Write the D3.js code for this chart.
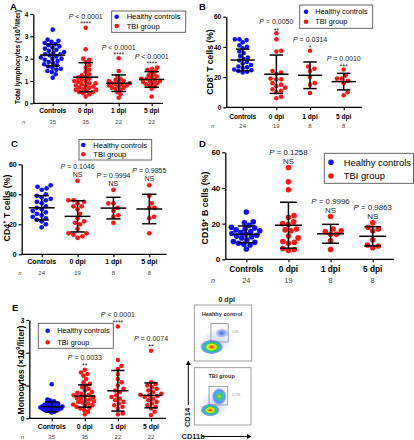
<!DOCTYPE html>
<html><head><meta charset="utf-8">
<script src="https://cdn.jsdelivr.net/npm/d3@7"></script>
<style>body{margin:0;background:#fff} svg{display:block} text{font-family:"Liberation Sans",Arial,Helvetica,sans-serif}</style>
</head><body><svg id="c" width="414" height="440"></svg>
<script>
// ---------------- DATA ----------------
const categories = ["Controls", "0 dpi", "1 dpi", "5 dpi"];
const seriesNames = ["Healthy controls", "TBI group"];

// A: total lymphocytes (x10^9/liter)
const lymphTicks = [0, 1, 2, 3, 4];
const lymphN = [35, 35, 22, 22];
const lymphControls = [3.3,2.85,2.8,2.75,2.7,2.65,2.6,2.55,2.5,2.45,2.4,2.35,2.3,2.25,2.2,2.2,2.15,2.1,2.05,2.0,2.0,1.95,1.9,1.85,1.8,1.75,1.7,1.65,1.6,1.55,1.5,1.45,1.4,1.3,1.15];
const lymph0 = [3.38,2.42,2.0,1.95,1.85,1.7,1.6,1.5,1.4,1.3,1.25,1.2,1.15,1.1,1.05,1.0,1.0,0.95,0.9,0.9,0.85,0.8,0.8,0.75,0.7,0.7,0.65,0.6,0.6,0.55,0.5,0.5,0.45,0.4,0.3];
const lymph1 = [2.02,1.45,1.2,1.1,1.05,1.0,1.0,0.95,0.9,0.9,0.85,0.85,0.8,0.8,0.75,0.7,0.7,0.65,0.6,0.5,0.4,0.25];
const lymph5 = [1.6,1.55,1.5,1.45,1.4,1.3,1.25,1.2,1.15,1.1,1.1,1.05,1.0,1.0,0.95,0.9,0.9,0.85,0.8,0.75,0.65,0.3];
const lymphMean = [2.16, 1.17, 0.9, 1.07];
const lymphSD = [0.48, 0.65, 0.37, 0.35];
const lymphP = ["", "P < 0.0001", "P < 0.0001", "P < 0.0001"];
const lymphSig = ["", "****", "****", "****"];

// B: CD8+ T cells (%)
const pctTicks = [0, 20, 40, 60];
const cd8N = [24, 19, 8, 8];
const cd8Controls = [45,45,44.5,43,41,40,39,37,36,34,33,32,31,30,29,28,27,26.5,26,25,24.5,24,23.5,23];
const cd8_0 = [49,45,37.5,37,24,23,22,19,18.5,18.5,16,15,14,13,12,11,10,7,6];
const cd8_1 = [37.5,27,25.5,24,20,16,15,9.5];
const cd8_5 = [25,21,19,19,17.5,16,10,8];
const cd8Mean = [31.3, 21.9, 21.2, 17.0];
const cd8SD = [7.2, 12.7, 8.8, 5.5];
const cd8P = ["", "P = 0.0050", "P = 0.0314", "P = 0.0010"];
const cd8Sig = ["", "**", "*", "***"];

// C: CD4+ T cells (%)
const cd4N = [24, 19, 8, 8];
const cd4Controls = [46,45,44,43,40,39,38,37,36,35,34,32,31,30,29,28,27,26,25,24,23,22,20,18];
const cd4_0 = [49,36,36,35,34,32,32,30,27,24,22,21,20,17,14,14,13,12,11];
const cd4_1 = [43,34,34,31,29,26,25,21];
const cd4_5 = [46,39,34,31,31,25,24,14];
const cd4Mean = [31.0, 25.3, 30.8, 30.2];
const cd4SD = [8.1, 10.4, 7.2, 9.8];
const cd4P = ["", "P = 0.1046", "P = 0.9994", "P = 0.9855"];
const cd4Sig = ["", "NS", "NS", "NS"];

// D: CD19+ B cells (%)
const cd19N = [24, 19, 8, 8];
const cd19Controls = [26.5,21,20.5,19,18,17.5,17,16.5,16,15.5,15,14.5,14,13.5,13,12.5,12,11,10,9.5,9,8.5,8,5.8];
const cd19_0 = [51.5,43.5,39,24.5,23.5,21,20,19.5,17,16.5,16,13,12,10,9.5,9,6,5.5,5];
const cd19_1 = [24,17,16,15.5,14,14,10.5,5.5];
const cd19_5 = [20.5,18,17,16,11,8,7.5,6.5];
const cd19Mean = [14.0, 19.1, 14.3, 12.9];
const cd19SD = [4.7, 12.9, 5.3, 5.4];
const cd19P = ["", "P = 0.1258", "P = 0.9996", "P = 0.9863"];
const cd19Sig = ["", "NS", "NS", "NS"];

// E: monocytes (x10^9/liter)
const monoTicks = [0, 1, 2, 3];
const monoN = [35, 35, 22, 22];
const monoControls = [1.04,0.57,0.55,0.52,0.5,0.48,0.46,0.45,0.44,0.42,0.41,0.4,0.39,0.38,0.37,0.36,0.36,0.35,0.34,0.33,0.33,0.32,0.31,0.3,0.3,0.29,0.28,0.27,0.26,0.25,0.24,0.23,0.22,0.2,0.18];
const mono0 = [1.48,1.4,1.35,1.3,1.2,1.1,1.05,1.0,0.95,0.9,0.85,0.8,0.78,0.75,0.72,0.7,0.68,0.65,0.62,0.6,0.58,0.55,0.52,0.5,0.48,0.45,0.42,0.4,0.38,0.35,0.32,0.3,0.25,0.2,0.12];
const mono1 = [2.8,1.78,1.6,1.5,1.35,1.2,1.1,1.0,0.9,0.85,0.8,0.7,0.65,0.6,0.55,0.5,0.45,0.4,0.35,0.3,0.15,0.12];
const mono5 = [2.06,1.1,1.05,1.0,0.95,0.9,0.85,0.8,0.75,0.72,0.7,0.68,0.65,0.6,0.55,0.5,0.45,0.4,0.35,0.3,0.2,0.1];
const monoMean = [0.35, 0.68, 0.84, 0.70];
const monoSD = [0.15, 0.34, 0.62, 0.38];
const monoP = ["", "P = 0.0033", "P < 0.0001", "P = 0.0074"];
const monoSig = ["", "**", "****", "**"];

// Flow cytometry inset (relative CD11b / CD14 units): [cx, cy, spreadX, spreadY, density level]
const flowTitle = "0 dpi";
const flowGroups = ["Healthy control", "TBI group"];
const flowHealthyBlobs = [[0.40,0.36,0.30,0.22,0],[0.30,0.25,0.20,0.13,3],[0.48,0.50,0.12,0.09,1]];
const flowTBIBlobs = [[0.36,0.36,0.27,0.25,0],[0.28,0.26,0.17,0.11,3],[0.44,0.50,0.13,0.15,2]];
const flowHealthyGate = [0.29, 0.59, 0.34, 0.67];
const flowTBIGate = [0.26, 0.59, 0.35, 0.67];
const flowPct = ["2.0%", "12.5%"];
const flowAxes = ["CD11b", "CD14"];

// ---------------- DRAWING ----------------
const svg = d3.select("#c");
const COL = ["#1010ff", "#ff1717"];

function swarm(values, y, r, maxW) {
  let d = 2 * r + 0.3, pts;
  for (let it = 0; it < 40; it++) {
    pts = values.map(v => ({v, py: y(v), dx: 0})).sort((a, b) => b.py - a.py);
    const placed = [];
    for (const p of pts) {
      const near = placed.filter(q => Math.abs(q.py - p.py) < d);
      const c = [0];
      for (const q of near) { const h = Math.sqrt(d * d - (q.py - p.py) ** 2); c.push(q.dx + h + 1e-4, q.dx - h - 1e-4); }
      c.sort((a, b) => Math.abs(a) - Math.abs(b) || b - a);
      p.dx = c.find(cc => near.every(q => (q.dx - cc) ** 2 + (q.py - p.py) ** 2 >= d * d - 1e-3));
      placed.push(p);
    }
    if (d3.max(pts, p => Math.abs(p.dx)) <= maxW) break;
    d *= 0.92;
  }
  return pts;
}

function addLabelText(sel, parts, size) {
  parts.forEach(([t, sup]) => {
    const ts = sel.append("tspan").text(t);
    if (sup) ts.attr("font-size", size * 0.65).attr("dy", -size * 0.38);
    else if (sel.selectAll("tspan").size() > 1) ts.attr("dy", size * 0.38);
  });
}

function panel(L, groups, mean, sd, nArr, pLab, sig, ticks, ylab) {
  const g = svg.append("g");
  const y = d3.scaleLinear().domain([ticks[0], ticks[ticks.length - 1]]).range([L.yBottom, L.yTop]);
  const x = d3.scalePoint().domain(categories).range([L.c0, L.c1]);
  const step = x.step();

  // y axis
  const ya = g.append("g").attr("transform", `translate(${L.axisX},0)`)
    .call(d3.axisLeft(y).tickValues(ticks).tickSize(3).tickSizeOuter(0).tickPadding(2).tickFormat(d3.format("d")));
  ya.select(".domain").attr("stroke", "#000").attr("stroke-width", 1.3);
  ya.selectAll(".tick line").attr("stroke", "#000").attr("stroke-width", 1.2);
  ya.selectAll(".tick text").attr("font-size", L.tickFont).attr("font-weight", "bold").attr("fill", "#000").attr("font-family", null);

  // x axis
  g.append("line").attr("x1", L.axisX).attr("x2", L.xEnd).attr("y1", L.yBottom).attr("y2", L.yBottom).attr("stroke", "#000").attr("stroke-width", 1.3);
  const xa = g.append("g").attr("transform", `translate(0,${L.yBottom})`)
    .call(d3.axisBottom(x).tickSize(3).tickSizeOuter(0).tickFormat(""));
  xa.select(".domain").remove();
  xa.selectAll(".tick line").attr("stroke", "#000").attr("stroke-width", 1.2);

  categories.forEach((c, i) => {
    g.append("text").attr("x", x(c)).attr("y", L.catY).attr("text-anchor", "middle")
      .attr("font-size", L.catFont).attr("font-weight", "bold").text(c);
    g.append("text").attr("x", x(c)).attr("y", L.nY).attr("text-anchor", "middle")
      .attr("font-size", L.nFont).attr("fill", "#444").text(nArr[i]);
  });
  g.append("text").attr("x", L.nX).attr("y", L.nY).attr("font-size", L.nFont).attr("font-style", "italic").attr("fill", "#444").text("n");

  // y label
  const yl = g.append("text").attr("transform", `translate(${L.ylab[0]},${L.ylab[1]}) rotate(-90)`)
    .attr("text-anchor", "middle").attr("dy", "0.35em").attr("font-size", L.ylab[2]).attr("font-weight", "bold");
  addLabelText(yl, ylab, L.ylab[2]);

  // panel letter
  g.append("text").attr("x", L.letter[0]).attr("y", L.letter[1]).attr("font-size", 9.5).attr("font-weight", "bold").text(L.letter[2]);

  // dots
  groups.forEach((vals, i) => {
    const cx = x(categories[i]);
    const pts = swarm(vals, y, L.r, step * 0.36);
    g.append("g").selectAll("circle").data(pts).join("circle")
      .attr("cx", p => cx + p.dx).attr("cy", p => p.py).attr("r", L.r)
      .attr("fill", COL[i === 0 ? 0 : 1]);
  });

  // mean +/- SD
  groups.forEach((vals, i) => {
    const cx = x(categories[i]);
    const hw = step * L.meanW, cw = step * L.capW;
    const eb = g.append("g").attr("stroke", "#000").attr("stroke-width", 1.5).attr("fill", "none");
    eb.append("line").attr("x1", cx - hw).attr("x2", cx + hw).attr("y1", y(mean[i])).attr("y2", y(mean[i]));
    eb.append("line").attr("x1", cx).attr("x2", cx).attr("y1", y(mean[i] + sd[i])).attr("y2", y(Math.max(0, mean[i] - sd[i])));
    eb.append("line").attr("x1", cx - cw).attr("x2", cx + cw).attr("y1", y(mean[i] + sd[i])).attr("y2", y(mean[i] + sd[i]));
    eb.append("line").attr("x1", cx - cw).attr("x2", cx + cw).attr("y1", y(mean[i] - sd[i])).attr("y2", y(mean[i] - sd[i]));
  });

  // annotations
  groups.forEach((vals, i) => {
    if (!pLab[i]) return;
    const cx = x(categories[i]);
    const base = y(d3.max(vals)) - L.ann.starGap;
    g.append("text").attr("x", cx).attr("y", base).attr("text-anchor", "middle").attr("font-size", L.ann.font)
      .attr("fill", "#222").text(sig[i]);
    const t = g.append("text").attr("x", cx).attr("y", base - L.ann.pGap).attr("text-anchor", "middle")
      .attr("font-size", L.ann.font).attr("fill", "#222");
    t.append("tspan").attr("font-style", "italic").text(pLab[i][0]);
    t.append("tspan").text(pLab[i].slice(1));
  });

  // legend
  const lg = L.legend;
  g.append("rect").attr("x", lg.x0).attr("y", lg.y0).attr("width", lg.x1 - lg.x0).attr("height", lg.y1 - lg.y0)
    .attr("fill", "#fff").attr("stroke", "#555").attr("stroke-width", 0.9);
  seriesNames.forEach((s, k) => {
    g.append("circle").attr("cx", lg.dotX).attr("cy", lg.ys[k]).attr("r", lg.r).attr("fill", COL[k]);
    g.append("text").attr("x", lg.textX).attr("y", lg.ys[k]).attr("dy", "0.35em").attr("font-size", lg.font).text(s);
  });
}

panel({axisX:33.3, xEnd:163, yBottom:103.3, yTop:14, c0:52.7, c1:151.7, r:2.3, tickFont:6.5, catFont:6.6, catY:113, nY:124, nX:22, nFont:6,
  ylab:[17.5,57,6.8], letter:[10,10,"A"], meanW:0.38, capW:0.22,
  legend:{x0:111.7,y0:11,x1:185.7,y1:32.3,ys:[16.7,26],dotX:116.7,textX:126.7,font:7.5,r:2.3},
  ann:{font:7, starGap:1.5, pGap:7}},
  [lymphControls, lymph0, lymph1, lymph5], lymphMean, lymphSD, lymphN, lymphP, lymphSig, lymphTicks,
  [["Total lymphocytes (×10",0],["9",1],["/liter)",0]]);

panel({axisX:226.3, xEnd:362, yBottom:107.3, yTop:16.7, c0:242.7, c1:343.7, r:2.3, tickFont:6.6, catFont:6.6, catY:118.5, nY:127.5, nX:211, nFont:6,
  ylab:[209.5,62,8.6], letter:[199,10,"B"], meanW:0.36, capW:0.2,
  legend:{x0:299.7,y0:5,x1:372.7,y1:28.3,ys:[11.7,21.7],dotX:306,textX:315.3,font:7.3,r:2.3},
  ann:{font:7, starGap:0.5, pGap:8.5}},
  [cd8Controls, cd8_0, cd8_1, cd8_5], cd8Mean, cd8SD, cd8N, cd8P, cd8Sig, pctTicks,
  [["CD8",0],["+",1],[" T cells (%)",0]]);

panel({axisX:21.7, xEnd:166.7, yBottom:254.3, yTop:164.3, c0:41.7, c1:149.3, r:2.4, tickFont:7, catFont:7, catY:264, nY:274.5, nX:18.3, nFont:6,
  ylab:[6.5,208,8.8], letter:[11,147,"C"], meanW:0.36, capW:0.2,
  legend:{x0:79,y0:139.5,x1:151.7,y1:160,ys:[145,154.3],dotX:83.3,textX:93.3,font:7.5,r:2.3},
  ann:{font:7, starGap:4, pGap:8.3}},
  [cd4Controls, cd4_0, cd4_1, cd4_5], cd4Mean, cd4SD, cd4N, cd4P, cd4Sig, pctTicks,
  [["CD4",0],["+",1],[" T cells (%)",0]]);

panel({axisX:225.3, xEnd:394, yBottom:259.3, yTop:152.3, c0:246.3, c1:372.7, r:2.8, tickFont:8, catFont:8.3, catY:271.5, nY:283, nX:211, nFont:7.5,
  ylab:[205,208,8.8], letter:[199,147,"D"], meanW:0.32, capW:0.2,
  legend:{x0:324.3,y0:153.3,x1:413.5,y1:183.3,ys:[162.3,176],dotX:331,textX:343.7,font:9.4,r:2.8},
  ann:{font:7.9, starGap:3.8, pGap:8.9}},
  [cd19Controls, cd19_0, cd19_1, cd19_5], cd19Mean, cd19SD, cd19N, cd19P, cd19Sig, pctTicks,
  [["CD19",0],["+",1],[" B cells (%)",0]]);

panel({axisX:29.3, xEnd:166, yBottom:418.3, yTop:320, c0:51.7, c1:151, r:2.3, tickFont:6.6, catFont:6.8, catY:429, nY:439, nX:20.7, nFont:6,
  ylab:[20.5,370,8.6], letter:[12,311,"E"], meanW:0.32, capW:0.2,
  legend:{x0:38.3,y0:323.3,x1:113.3,y1:348.3,ys:[330.7,342.3],dotX:47.7,textX:57.3,font:7.3,r:2.3},
  ann:{font:7, starGap:1.5, pGap:8.4}},
  [monoControls, mono0, mono1, mono5], monoMean, monoSD, monoN, monoP, monoSig, monoTicks,
  [["Monocytes (×10",0],["9",1],["/liter)",0]]);

// ---------------- FLOW INSET ----------------
const defs = svg.append("defs");
const gradSpecs = [
  [[0,"#6a8cff",0.35],[1,"#6a8cff",0]],
  [[0,"#2a4cff",0.9],[0.6,"#5a78ff",0.5],[1,"#5a78ff",0]],
  [[0,"#c8f020",1],[0.25,"#40d040",1],[0.55,"#20b0f0",0.9],[0.8,"#3050ff",0.6],[1,"#3050ff",0]],
  [[0,"#e8101a",1],[0.2,"#ff9a00",1],[0.35,"#f8f020",1],[0.55,"#30c840",1],[0.75,"#20a8f0",0.9],[0.9,"#3050ff",0.5],[1,"#3050ff",0]]
];
gradSpecs.forEach((st, k) => {
  const gr = defs.append("radialGradient").attr("id", "fg" + k);
  st.forEach(s => gr.append("stop").attr("offset", s[0]).attr("stop-color", s[1]).attr("stop-opacity", s[2]));
});

const flowBoxes = [{x0:194.3,y0:305,x1:251.7,y1:361},{x0:194.3,y0:367.7,x1:251,y1:425}];
const flowBlobs = [flowHealthyBlobs, flowTBIBlobs];
const flowGates = [flowHealthyGate, flowTBIGate];
const fg = svg.append("g");
fg.append("text").attr("x", 226.7).attr("y", 301.8).attr("text-anchor", "middle").attr("font-size", 7).attr("font-weight", "bold").attr("fill", "#222").text(flowTitle);
flowBoxes.forEach((b, k) => {
  const fx = d3.scaleLinear().domain([0, 1]).range([b.x0, b.x1]);
  const fy = d3.scaleLinear().domain([0, 1]).range([b.y1, b.y0]);
  const w = b.x1 - b.x0, h = b.y1 - b.y0;
  fg.append("rect").attr("x", b.x0).attr("y", b.y0).attr("width", w).attr("height", h).attr("fill", "#fff").attr("stroke", "#888").attr("stroke-width", 0.8);
  flowBlobs[k].forEach(bl => {
    fg.append("ellipse").attr("cx", fx(bl[0])).attr("cy", fy(bl[1])).attr("rx", bl[2] * w).attr("ry", bl[3] * h)
      .attr("fill", `url(#fg${bl[4]})`);
  });
  const gt = flowGates[k];
  fg.append("rect").attr("x", fx(gt[0])).attr("y", fy(gt[3])).attr("width", fx(gt[1]) - fx(gt[0])).attr("height", fy(gt[2]) - fy(gt[3]))
    .attr("fill", "none").attr("stroke", "#777").attr("stroke-width", 0.7);
  fg.append("text").attr("x", fx(gt[1]) + 4).attr("y", (fy(gt[2]) + fy(gt[3])) / 2).attr("font-size", 3).attr("fill", "#888").text(flowPct[k]);
  fg.append("text").attr("x", (b.x0 + b.x1) / 2 - 1).attr("y", b.y0 + 10.5).attr("text-anchor", "middle").attr("font-size", 5.6).attr("font-weight", "bold").attr("fill", "#333").text(flowGroups[k]);
});
// axes arrows
const ax = fg.append("g").attr("stroke", "#000").attr("stroke-width", 1);
ax.append("line").attr("x1", 188.3).attr("x2", 188.3).attr("y1", 405).attr("y2", 364);
fg.append("path").attr("d", "M185.8,365 L188.3,360.5 L190.8,365 Z").attr("fill", "#000");
ax.append("line").attr("x1", 202).attr("x2", 248).attr("y1", 436.5).attr("y2", 436.5);
fg.append("path").attr("d", "M247,434 L251.5,436.5 L247,439 Z").attr("fill", "#000");
fg.append("text").attr("transform", "translate(187,417.5) rotate(-90)").attr("text-anchor", "middle").attr("dy", "0.35em")
  .attr("font-size", 7.5).attr("font-weight", "bold").attr("fill", "#222").text(flowAxes[1]);
fg.append("text").attr("x", 181.5).attr("y", 439).attr("font-size", 7.5).attr("font-weight", "bold").attr("fill", "#222").text(flowAxes[0]);
</script></body></html>
